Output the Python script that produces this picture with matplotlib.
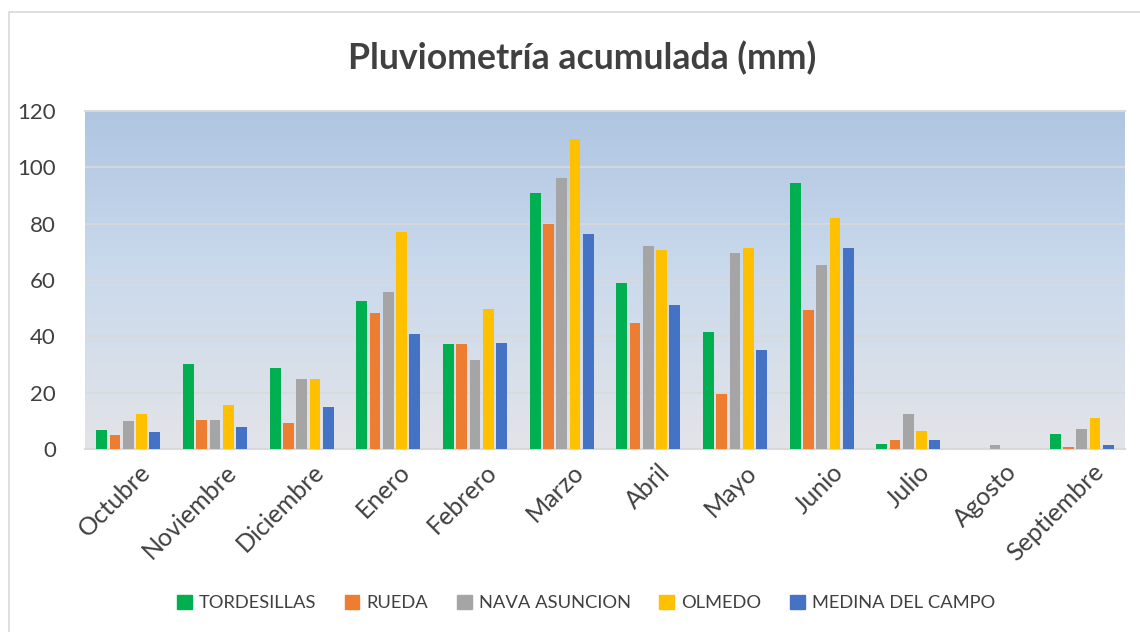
import numpy as np
import matplotlib.pyplot as plt
import matplotlib.transforms as mtransforms
from matplotlib.colors import LinearSegmentedColormap
from matplotlib.patches import Patch

meses = ["Octubre", "Noviembre", "Diciembre", "Enero", "Febrero", "Marzo",
         "Abril", "Mayo", "Junio", "Julio", "Agosto", "Septiembre"]

tordesillas = [6.7, 30.1, 28.6, 52.7, 37.2, 90.9, 59.0, 41.7, 94.6, 1.6, 0.0, 5.5]
rueda = [5.0, 10.4, 9.4, 48.4, 37.4, 80.0, 44.8, 19.6, 49.5, 3.1, 0.0, 0.8]
nava_asuncion = [9.8, 10.4, 25.0, 55.8, 31.6, 96.3, 72.0, 69.6, 65.2, 12.4, 1.5, 7.0]
olmedo = [12.4, 15.5, 25.0, 77.1, 49.6, 110.1, 70.7, 71.4, 82.1, 6.4, 0.0, 11.0]
medina = [5.9, 7.7, 15.0, 41.0, 37.8, 76.4, 51.3, 35.3, 71.2, 3.1, 0.0, 1.4]

series = [
    ("TORDESILLAS", tordesillas, "#00B050"),
    ("RUEDA", rueda, "#ED7D31"),
    ("NAVA ASUNCION", nava_asuncion, "#A5A5A5"),
    ("OLMEDO", olmedo, "#FFC000"),
    ("MEDINA DEL CAMPO", medina, "#4472C4"),
]

plt.rcParams['font.family'] = ['Lato', 'DejaVu Sans']

fig = plt.figure(figsize=(11.4, 6.32), dpi=100)
W, H = 1140, 632
ax = fig.add_axes([85 / W, 1 - 449 / H, (1125 - 85) / W, (449 - 111) / H])

# marco exterior
fig.patches.append(plt.Rectangle((9 / W, -0.1), 1.2, 1 - 12 / H + 0.1,
                                 transform=fig.transFigure, fill=False,
                                 edgecolor="#D9D9D9", linewidth=1.2))

# fondo degradado
grad = LinearSegmentedColormap.from_list(
    "fondo", [(0.0, "#E3E4E8"), (0.55, "#C9D9EC"), (1.0, "#AFC5E1")])
x = np.arange(len(meses))
ax.imshow(np.linspace(0, 1, 256).reshape(-1, 1), cmap=grad, origin="lower",
          aspect="auto", extent=(-0.5, len(meses) - 0.5, 0, 120), zorder=0)

slot = 0.153
width = 0.125
for i, (nombre, vals, color) in enumerate(series):
    ax.bar(x + (i - 2) * slot, vals, width, color=color, label=nombre, zorder=3,
           linewidth=0)

ax.set_xlim(-0.5, len(meses) - 0.5)
ax.set_ylim(0, 120)
ax.set_yticks(range(0, 121, 20))
ax.yaxis.grid(True, color="#D9D9D9", linewidth=1.2, zorder=1)
ax.set_axisbelow(False)
for s in ["left", "right"]:
    ax.spines[s].set_visible(False)
ax.spines["top"].set_color("#D9D9D9")
ax.spines["top"].set_linewidth(1.5)
ax.spines["bottom"].set_color("#D9D9D9")
ax.spines["bottom"].set_linewidth(1.5)
ax.tick_params(axis="both", length=0, labelcolor="#404040")
ax.tick_params(axis="y", labelsize=16, pad=21)
ax.set_xticks(x)
ax.set_xticklabels(meses, rotation=45, ha="right", rotation_mode="anchor",
                   fontsize=18)
ax.tick_params(axis="x", pad=8)
desplaza = mtransforms.ScaledTranslation(10 / 100, 0, fig.dpi_scale_trans)
for lab in ax.get_xticklabels():
    lab.set_transform(lab.get_transform() + desplaza)

fig.text(582 / W, 1 - 58 / H, "Pluviometría acumulada (mm)", ha="center", va="center",
         fontsize=25.7, fontweight="bold", color="#404040")

handles = [Patch(facecolor=c, edgecolor=c) for _, _, c in series]
fig.legend(handles, [n for n, _, _ in series], loc="center",
           bbox_to_anchor=(586 / W, 1 - 603 / H), ncol=5, frameon=False,
           fontsize=13.2, handlelength=0.8, handleheight=0.8, handletextpad=0.4,
           columnspacing=1.55, labelcolor="#404040")

fig.savefig("out.png", dpi=100)
